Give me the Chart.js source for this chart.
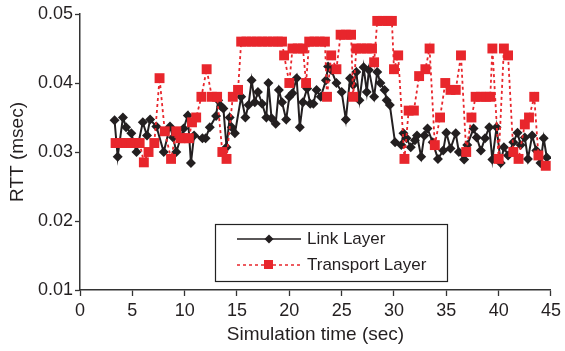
<!DOCTYPE html>
<html>
<head>
<meta charset="utf-8">
<script src="https://cdn.jsdelivr.net/npm/chart.js@4.4.1/dist/chart.umd.min.js"></script>
<style>
  html, body { margin: 0; padding: 0; background: #fff; }
  #wrap { width: 565px; height: 351px; }
</style>
</head>
<body>
<div id="wrap"><canvas id="rtt" width="565" height="351"></canvas></div>
<script>
// Link layer RTT samples (sec, msec)
var linkTime = [3.3, 3.6, 4.1, 4.4, 4.9, 5.4, 6.0, 6.4, 6.7, 7.3, 8.0, 8.6, 8.9, 9.2, 9.9, 10.3, 10.6, 10.9,
    11.7, 12.0, 12.4, 13.0, 13.2, 13.5, 13.7, 14.0, 14.3, 14.5, 14.8, 15.4, 15.8, 16.1, 16.4, 16.7, 17.0,
    17.4, 17.8, 18.0, 18.3, 18.7, 19.0, 19.3, 19.7, 20.0, 20.3, 20.7, 21.0, 21.3, 21.7, 22.0, 22.3, 22.6,
    23.0, 23.5, 23.7, 24.0, 24.5, 25.0, 25.4, 25.8, 26.1, 26.4, 26.7, 27.1, 27.4, 27.6, 28.1, 28.4, 28.7,
    29.1, 29.3, 29.6, 30.1, 30.7, 30.9, 31.2, 31.6, 32.0, 32.2, 32.6, 32.9, 33.2, 33.7, 34.2, 34.7, 35.0,
    35.4, 35.9, 36.2, 36.7, 37.0, 37.6, 37.9, 38.3, 38.7, 39.1, 39.4, 39.8, 40.2, 40.5, 40.9, 41.4, 41.8,
    42.1, 42.5, 42.8, 43.2, 43.6, 44.0, 44.3, 44.6];
var linkRtt = [0.0346, 0.0293, 0.0350, 0.0336, 0.0327, 0.0300, 0.0343, 0.0324, 0.0347, 0.0337, 0.0300, 0.0337,
    0.0321, 0.0300, 0.0334, 0.0353, 0.0284, 0.0324, 0.0320, 0.0320, 0.0336, 0.0352, 0.0375, 0.0366, 0.0363,
    0.0307, 0.0350, 0.0336, 0.0327, 0.0380, 0.0350, 0.0368, 0.0404, 0.0372, 0.0387, 0.0370, 0.0350, 0.0400,
    0.0349, 0.0341, 0.0390, 0.0372, 0.0347, 0.0380, 0.0385, 0.0407, 0.0336, 0.0372, 0.0392, 0.0370, 0.0370,
    0.0390, 0.0380, 0.0404, 0.0424, 0.0419, 0.0400, 0.0387, 0.0347, 0.0407, 0.0397, 0.0416, 0.0375, 0.0423,
    0.0387, 0.0419, 0.0380, 0.0416, 0.0400, 0.0390, 0.0375, 0.0368, 0.0314, 0.0310, 0.0327, 0.0320, 0.0307,
    0.0317, 0.0324, 0.0293, 0.0324, 0.0334, 0.0314, 0.0290, 0.0302, 0.0328, 0.0305, 0.0327, 0.0300, 0.0289,
    0.0310, 0.0334, 0.0321, 0.0302, 0.0320, 0.0336, 0.0289, 0.0336, 0.0284, 0.0307, 0.0295, 0.0314, 0.0328,
    0.0310, 0.0321, 0.0290, 0.0324, 0.0302, 0.0284, 0.0320, 0.0292];

// Transport layer RTT samples
var transportTime = [3.4, 3.9, 4.4, 4.9, 5.3, 5.7, 6.1, 6.55, 7.1, 7.6, 8.1, 8.7, 9.2, 9.6, 10.0, 10.4, 10.7,
    11.1, 11.6, 12.1, 12.6, 13.1, 13.6, 14.0, 14.6, 15.1, 15.4, 15.9, 16.4, 16.9, 17.4, 17.9, 18.4, 18.9,
    19.3, 19.5, 20.0, 20.3, 20.8, 21.3, 21.6, 21.9, 22.4, 22.9, 23.4, 23.6, 24.0, 24.5, 24.9, 25.4, 25.9,
    26.1, 26.4, 26.9, 27.4, 27.9, 28.1, 28.4, 28.9, 29.4, 29.8, 30.0, 30.4, 31.0, 31.4, 31.9, 32.4, 33.0,
    33.4, 33.9, 34.4, 34.9, 35.4, 35.9, 36.4, 36.9, 37.4, 37.8, 38.3, 38.8, 39.2, 39.4, 40.0, 40.5, 40.9,
    41.4, 41.9, 42.5, 42.9, 43.4, 43.8, 44.5];
var transportRtt = [0.0313, 0.0313, 0.0313, 0.0313, 0.0313, 0.0313, 0.0285, 0.0300, 0.0313, 0.0407, 0.0330,
    0.0290, 0.0330, 0.0320, 0.0320, 0.0320, 0.0343, 0.0350, 0.0380, 0.0420, 0.0380, 0.0380, 0.0300, 0.0290,
    0.0380, 0.0390, 0.0460, 0.0460, 0.0460, 0.0460, 0.0460, 0.0460, 0.0460, 0.0460, 0.0460, 0.0440, 0.0400,
    0.0450, 0.0450, 0.0450, 0.0400, 0.0460, 0.0460, 0.0460, 0.0460, 0.0380, 0.0440, 0.0420, 0.0470, 0.0470,
    0.0470, 0.0380, 0.0450, 0.0450, 0.0450, 0.0450, 0.0430, 0.0490, 0.0490, 0.0490, 0.0490, 0.0420, 0.0440,
    0.0290, 0.0360, 0.0360, 0.0410, 0.0420, 0.0450, 0.0310, 0.0350, 0.0400, 0.0390, 0.0390, 0.0440, 0.0300,
    0.0350, 0.0380, 0.0380, 0.0380, 0.0380, 0.0450, 0.0290, 0.0450, 0.0440, 0.0300, 0.0290, 0.0340, 0.0350,
    0.0380, 0.0295, 0.0280];

var xTicks = [0, 5, 10, 15, 20, 25, 30, 35, 40, 45];
var yTicks = [0.01, 0.02, 0.03, 0.04, 0.05];

var black = '#231f20';
var red = '#e8262c';

var toPoints = function (xs, ys) {
    return xs.map(function (x, i) { return { x: x, y: ys[i] }; });
};

// legend box drawn inside the plot, like the original
var boxLegend = {
    id: 'boxLegend',
    afterDraw: function (chart) {
        var ctx = chart.ctx;
        var x0 = 215, y0 = 224, w = 232, h = 57;
        ctx.save();
        ctx.fillStyle = '#fff';
        ctx.fillRect(x0, y0, w, h);
        ctx.strokeStyle = '#222';
        ctx.lineWidth = 1.2;
        ctx.strokeRect(x0 + 0.5, y0 + 0.5, w, h);

        // Link Layer
        ctx.strokeStyle = black;
        ctx.lineWidth = 1.4;
        ctx.beginPath();
        ctx.moveTo(237, 239); ctx.lineTo(301, 239);
        ctx.stroke();
        ctx.fillStyle = black;
        ctx.beginPath();
        ctx.moveTo(269, 234.5); ctx.lineTo(273.5, 239); ctx.lineTo(269, 243.5); ctx.lineTo(264.5, 239);
        ctx.closePath();
        ctx.fill();

        // Transport Layer
        ctx.strokeStyle = red;
        ctx.setLineDash([3, 3]);
        ctx.beginPath();
        ctx.moveTo(237, 265); ctx.lineTo(301, 265);
        ctx.stroke();
        ctx.setLineDash([]);
        ctx.fillStyle = red;
        ctx.fillRect(264, 260, 9, 9);

        ctx.fillStyle = '#231f20';
        ctx.font = '17px "Liberation Sans", Arial, sans-serif';
        ctx.textBaseline = 'middle';
        ctx.fillText('Link Layer', 307, 239);
        ctx.fillText('Transport Layer', 307, 265);
        ctx.restore();
    }
};

var createChart = function () {
    var canvas = document.getElementById('rtt');
    var axisFont = { family: '"Liberation Sans", Arial, sans-serif', size: 18 };
    var titleFont = { family: '"Liberation Sans", Arial, sans-serif', size: 19 };

    new Chart(canvas, {
        type: 'line',
        data: {
            datasets: [{
                label: 'Link Layer',
                data: toPoints(linkTime, linkRtt),
                borderColor: black,
                backgroundColor: black,
                borderWidth: 2,
                pointStyle: 'rectRot',
                pointRadius: 5,
                pointBorderWidth: 0,
                pointBackgroundColor: black,
                tension: 0,
                order: 1
            }, {
                label: 'Transport Layer',
                data: toPoints(transportTime, transportRtt),
                borderColor: red,
                backgroundColor: red,
                borderWidth: 1.8,
                borderDash: [3, 3],
                pointStyle: 'rect',
                pointRadius: 7,
                pointBorderWidth: 0,
                pointBackgroundColor: red,
                tension: 0,
                order: 0
            }]
        },
        options: {
            responsive: false,
            animation: false,
            devicePixelRatio: 1,
            layout: { padding: { top: 14, right: 11, left: 0, bottom: 0 } },
            plugins: {
                legend: { display: false },
                tooltip: { enabled: false }
            },
            scales: {
                x: {
                    type: 'linear',
                    min: 0,
                    max: 45,
                    afterFit: function (scale) { scale.height = 61; },
                    afterBuildTicks: function (scale) {
                        scale.ticks = xTicks.map(function (v) { return { value: v }; });
                    },
                    grid: { drawOnChartArea: false, drawTicks: true, tickLength: 6, tickColor: '#333', tickWidth: 1.3 },
                    border: { color: '#333', width: 1.5 },
                    ticks: { color: '#231f20', font: axisFont, padding: 4, maxRotation: 0 },
                    title: { display: true, text: 'Simulation time (sec)', color: '#231f20', font: titleFont, padding: { top: 0, bottom: 5 } }
                },
                y: {
                    min: 0.01,
                    max: 0.05,
                    afterFit: function (scale) { scale.width = 80; },
                    afterBuildTicks: function (scale) {
                        scale.ticks = yTicks.map(function (v) { return { value: v }; });
                    },
                    grid: { drawOnChartArea: false, drawTicks: true, tickLength: 5, tickColor: '#333', tickWidth: 1.3 },
                    border: { color: '#333', width: 1.5 },
                    ticks: {
                        color: '#231f20',
                        font: axisFont,
                        padding: 2,
                        callback: function (v) { return v.toFixed(2); }
                    },
                    title: { display: true, text: 'RTT (msec)', color: '#231f20', font: titleFont, padding: { top: 6, bottom: 0 } }
                }
            }
        },
        plugins: [boxLegend]
    });
};

createChart();
</script>
</body>
</html>
